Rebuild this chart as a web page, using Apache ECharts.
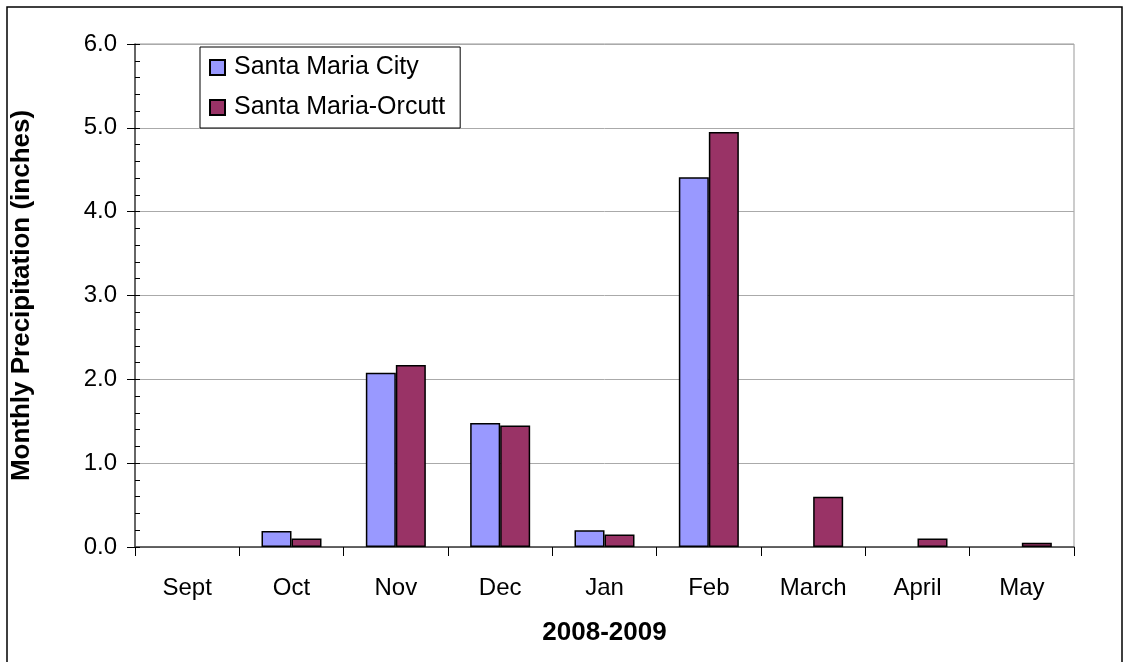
<html lang="en">
<head>
    <meta charset="UTF-8">
    <script src="https://cdn.jsdelivr.net/npm/echarts@6/dist/echarts.min.js"></script>
    <style type="text/css">
        html, body, #main {
            height: 100%;
            width: 100%;
            margin: 0;
            padding: 0;
            background: #fff;
        }
    </style>
    <title>Monthly Precipitation 2008-2009</title>
</head>
<body>
<div id="main"></div>
<script>
    var months = ['Sept', 'Oct', 'Nov', 'Dec', 'Jan', 'Feb', 'March', 'April', 'May'];
    var cityValues = [null, 0.19, 2.08, 1.48, 0.2, 4.41, null, null, null];
    var orcuttValues = [null, 0.1, 2.17, 1.45, 0.15, 4.95, 0.6, 0.1, 0.05];
    var seriesNames = ['Santa Maria City', 'Santa Maria-Orcutt'];

    var font = 'Liberation Sans, Arial, sans-serif';
    var myChart = echarts.init(document.getElementById('main'));

    var option = {
        animation: false,
        backgroundColor: '#fff',
        textStyle: {fontFamily: font},
        graphic: [{
            type: 'rect',
            shape: {x: 7, y: 7, width: 1115, height: 700},
            style: {fill: 'none', stroke: '#000', lineWidth: 1.5},
            silent: true
        }],
        grid: {
            left: 135, right: 56, top: 44, bottom: 115,
            show: true, borderColor: '#999', borderWidth: 1
        },
        legend: {
            orient: 'vertical',
            left: 200, top: 47,
            padding: [8, 15, 8, 9],
            itemGap: 15,
            itemWidth: 15, itemHeight: 15,
            borderColor: '#000', borderWidth: 1,
            backgroundColor: '#fff',
            icon: 'rect',
            textStyle: {fontSize: 25, color: '#000', fontFamily: font, padding: [0, 0, 0, 4]},
            data: seriesNames
        },
        xAxis: {
            type: 'category',
            data: months,
            name: '2008-2009',
            nameLocation: 'middle',
            nameGap: 73,
            nameTextStyle: {fontSize: 26, fontWeight: 'bold', color: '#000', fontFamily: font},
            axisLine: {lineStyle: {color: '#444', width: 1.5}},
            axisTick: {show: true, length: 9, lineStyle: {color: '#000'}},
            axisLabel: {fontSize: 24, color: '#000', margin: 29, fontFamily: font}
        },
        yAxis: [{
            type: 'value',
            min: 0, max: 6, interval: 1,
            name: 'Monthly Precipitation (inches)',
            nameLocation: 'middle',
            nameGap: 100,
            nameTextStyle: {fontSize: 26, fontWeight: 'bold', color: '#000', fontFamily: font},
            axisLine: {show: true, lineStyle: {color: '#444', width: 1.5}},
            axisTick: {show: true, length: 8, lineStyle: {color: '#000'}},
            axisLabel: {fontSize: 24, color: '#000', margin: 18, fontFamily: font,
                formatter: function (v) { return v.toFixed(1); }},
            splitLine: {show: true, lineStyle: {color: '#aaa', width: 1}}
        }, {
            // minor ticks on the inner side of the axis
            type: 'value',
            position: 'left',
            min: 0, max: 6, interval: 0.2,
            axisLine: {show: false},
            axisTick: {show: true, inside: true, length: 5, lineStyle: {color: '#000'}},
            axisLabel: {show: false},
            splitLine: {show: false}
        }],
        series: [{
            name: seriesNames[0],
            type: 'bar',
            data: cityValues,
            barWidth: 30,
            barGap: '0%',
            itemStyle: {color: '#9999ff', borderColor: '#000', borderWidth: 1.5}
        }, {
            name: seriesNames[1],
            type: 'bar',
            data: orcuttValues,
            barWidth: 30,
            barGap: '0%',
            itemStyle: {color: '#993366', borderColor: '#000', borderWidth: 1.5}
        }]
    };

    myChart.setOption(option);
</script>
</body>
</html>
